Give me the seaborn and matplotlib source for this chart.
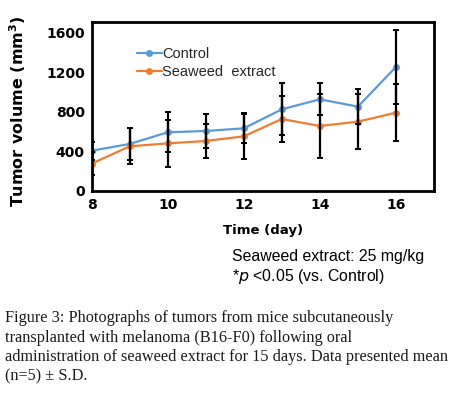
import numpy as np
import pandas as pd
import seaborn as sns
import matplotlib
matplotlib.use("Agg")
import matplotlib.pyplot as plt

days = [8, 9, 10, 11, 12, 13, 14, 15, 16]
control_mean = [407, 475, 593, 606, 633, 825, 926, 852, 1253]
control_sd = [91, 160, 200, 172, 153, 264, 163, 176, 375]
seaweed_mean = [276, 451, 481, 505, 552, 727, 657, 700, 791]
seaweed_sd = [114, 181, 235, 175, 225, 230, 327, 275, 290]
series_names = ["Control", "Seaweed  extract"]
series_colors = ["#5B9BD5", "#ED7D31"]
y_ticks = [0, 400, 800, 1200, 1600]
x_ticks = [8, 10, 12, 14, 16]

sns.set_theme(style="white")
plt.rcParams['font.family'] = ['DejaVu Sans']

fig = plt.figure(figsize=(4.53, 3.96), dpi=100)
ax = fig.add_axes([0.2024, 0.5177, 0.7556, 0.4275])

df = pd.DataFrame({
    "day": days * 2,
    "vol": control_mean + seaweed_mean,
    "group": [series_names[0]] * len(days) + [series_names[1]] * len(days),
})
sns.lineplot(data=df, x="day", y="vol", hue="group", palette=series_colors,
             marker="o", markersize=5, markeredgewidth=0, linewidth=1.6,
             ax=ax, legend=False, zorder=2)

for m, s in [(control_mean, control_sd), (seaweed_mean, seaweed_sd)]:
    ax.errorbar(days, m, yerr=s, fmt="none", ecolor="black", elinewidth=1.6,
                capsize=2, capthick=1.4, zorder=3)

ax.set_xlim(8, 17)
ax.set_ylim(0, 1710)
ax.set_xticks(x_ticks)
ax.set_yticks(y_ticks)
ax.tick_params(axis="both", direction="in", length=3, width=1, color="black",
               labelsize=10, pad=5)
for lab in ax.get_xticklabels() + ax.get_yticklabels():
    lab.set_fontweight("bold")
    lab.set_color("black")
for sp in ax.spines.values():
    sp.set_visible(True)
    sp.set_color("black")
    sp.set_linewidth(2)

ax.set_xlabel("Time (day)", fontsize=9.5, fontweight="bold", color="black", labelpad=9)
ax.set_ylabel("Tumor volume (mm$^\\mathbf{3}$)", fontsize=11.5, fontweight="bold",
              color="black", labelpad=7)
ax.yaxis.set_label_coords(-0.185, 0.47)

from matplotlib.lines import Line2D
handles = [Line2D([], [], color=c, marker="o", markersize=5, markeredgewidth=0,
                  linewidth=1.6) for c in series_colors]
ax.legend(handles, series_names, loc="upper left", bbox_to_anchor=(0.115, 0.885),
          frameon=False, prop={"family": "Liberation Sans", "size": 10.5},
          handlelength=1.7, handletextpad=0.05, labelspacing=0.25,
          borderaxespad=0)

fig.text(232 / 453, 1 - 257 / 396, "Seaweed extract: 25 mg/kg", fontsize=11.4,
         family="Liberation Sans", color="black", va="center", ha="left")
fig.text(232 / 453, 1 - 277 / 396, "*$\\mathit{p}$ <0.05 (vs. Control)", fontsize=11.4,
         family="Liberation Sans", color="black", va="center", ha="left")

caption = ["Figure 3: Photographs of tumors from mice subcutaneously",
           "transplanted with melanoma (B16-F0) following oral",
           "administration of seaweed extract for 15 days. Data presented mean",
           "(n=5) \u00b1 S.D."]
for i, line in enumerate(caption):
    fig.text(5 / 453, 1 - (318 + 19.5 * i) / 396, line, fontsize=11.7,
             family="Liberation Serif", color="#1a1a1a", va="center", ha="left")

fig.savefig("out.png", dpi=100)
